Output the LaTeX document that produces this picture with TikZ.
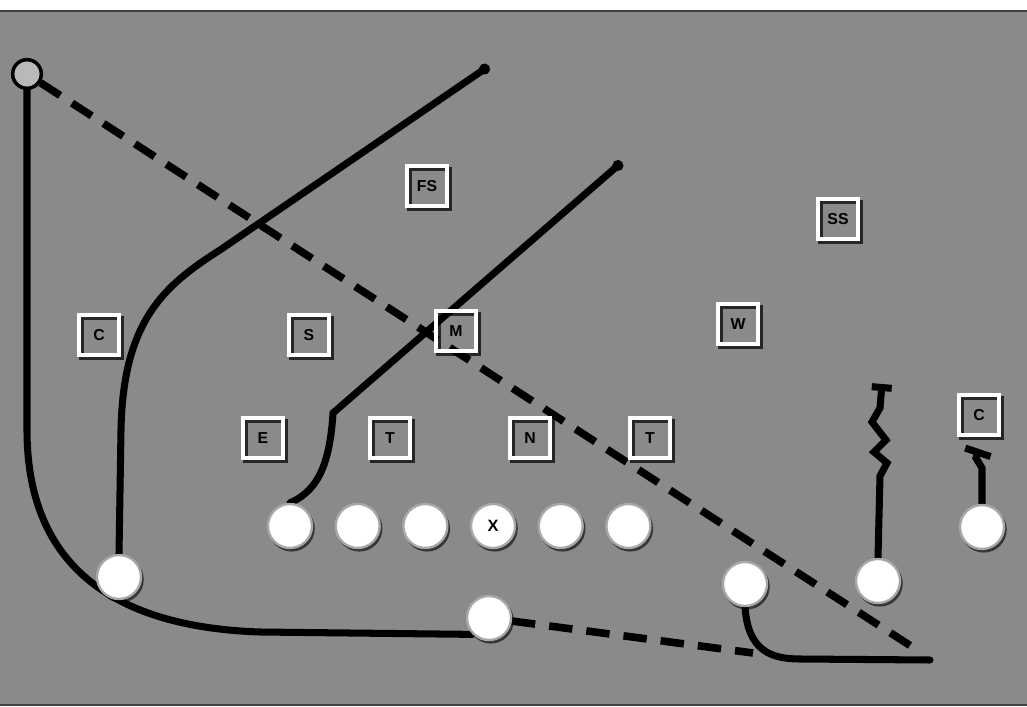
\documentclass[tikz,border=0pt]{standalone}
\usepackage{fontspec}
\setmainfont{Liberation Sans}
\usetikzlibrary{arrows.meta,positioning}

\definecolor{field}{RGB}{138,138,138}
\definecolor{ring}{RGB}{168,168,168}
\pgfdeclarelayer{back}
\pgfsetlayers{back,main}

\tikzset{
  player/.style={circle,fill=white,draw=ring,line width=2pt,minimum size=13.2mm,inner sep=0pt,
    font=\bfseries\fontsize{14}{14}\selectfont},
  defender/.style={rectangle,draw=white,line width=3.6pt,minimum size=12mm,inner sep=0pt,outer sep=0pt,
    font=\bfseries\fontsize{13.5}{13.5}\selectfont},
  route/.style={line width=6pt,black,line cap=round},
  pass/.style={line width=6.5pt,black,dash pattern=on 20pt off 12pt},
}

\begin{document}
\begin{tikzpicture}[x=0.03cm,y=-0.03cm,node distance=6.4mm]
    \useasboundingbox (0,0) rectangle (1027,707);
    % offense
    \node[circle,draw=black,fill=gray!55,line width=3pt,minimum size=8.6mm,inner sep=0pt] (wing) at (27,74) {};
    \node[player] (ol1) at (290,526) {};
    \node[player,right=of ol1] (ol2) {};
    \node[player,right=of ol2] (ol3) {};
    \node[player,right=of ol3] (ctr) {X};
    \node[player,right=of ctr] (ol5) {};
    \node[player,right=of ol5] (ol6) {};
    \node[player] (wr3) at (982,527) {};
    \node[player] (rb) at (119,577) {};
    \node[player] (fb) at (489,618) {};
    \node[player] (wr1) at (745,584) {};
    \node[player] (wr2) at (878,581) {};
    % defense
    \node[defender] (fs) at (427,186) {FS};
    \node[defender] (ss) at (838,219) {SS};
    \node[defender] (cl) at (99,335) {C};
    \node[defender] (sam) at (309,335) {S};
    \node[defender] (mike) at (456,331) {M};
    \node[defender] (will) at (738,324) {W};
    \node[defender] (de) at (263,438) {E};
    \node[defender] (dt1) at (390,438) {T};
    \node[defender] (nose) at (530,438) {N};
    \node[defender] (dt2) at (650,438) {T};
    \node[defender] (cr) at (979,415) {C};
    % route ends
    \coordinate (deep1) at (489,66);
    \coordinate (deep2) at (622,162);
    \coordinate (flat) at (930,660);
    \coordinate (passend) at (917,650);
    \coordinate (pitch) at (753,653);
    \coordinate (hook1) at (882,384);
    \coordinate (hook2) at (979,449);
    \begin{pgfonlayer}{back}
      \fill[white] (0,0) rectangle (1027,707);
      \fill[field] (0,11) rectangle (1027,705);
      \draw[black!75,line width=2pt] (0,11) -- (1027,11);
      \draw[black!75,line width=1pt] (0,705) -- (1027,705);
      % shadows
      \foreach \p in {ol1,ol2,ol3,ctr,ol5,ol6,wr3,rb,fb,wr1,wr2}
        \fill[black,opacity=.6] ([shift={(1.5pt,-2.2pt)}]\p.center) circle (6.9mm);
      \foreach \d in {fs,ss,cl,sam,mike,will,de,dt1,nose,dt2,cr}
        \draw[black!85,line width=3.6pt] ([shift={(2.2pt,-2.8pt)}]\d.south west) rectangle ([shift={(2.2pt,-2.8pt)}]\d.north east);
      % routes
      \draw[route] (wing) -- (27,430) .. controls (27,585) and (140,628) .. (260,632) -- (fb.-135);
      \draw[route,-{Circle[length=3.2mm]}] (rb.north) -- (121,430) .. controls (123,320) and (165,285) .. (220,250) -- (deep1);
      \draw[route,-{Circle[length=3.2mm]}] (ol1.north) .. controls (320,490) and (330,460) .. (333,413) -- (deep2);
      \draw[pass] (wing) -- (passend);
      \draw[pass] (fb) -- (pitch);
      \draw[route] (wr1.south) .. controls (748,650) and (770,659) .. (800,659) -- (flat);
      \draw[route,-{Bar[width=6mm]}] (wr2.north) -- (880,476) -- (887,463) -- (874,452) -- (886,440) -- (872,422) -- (880,408) -- (hook1);
      \draw[route,-{Bar[width=8mm]}] (wr3.north) -- (982,468) -- (976,458) -- (hook2);
    \end{pgfonlayer}
  \end{tikzpicture}
\end{document}
